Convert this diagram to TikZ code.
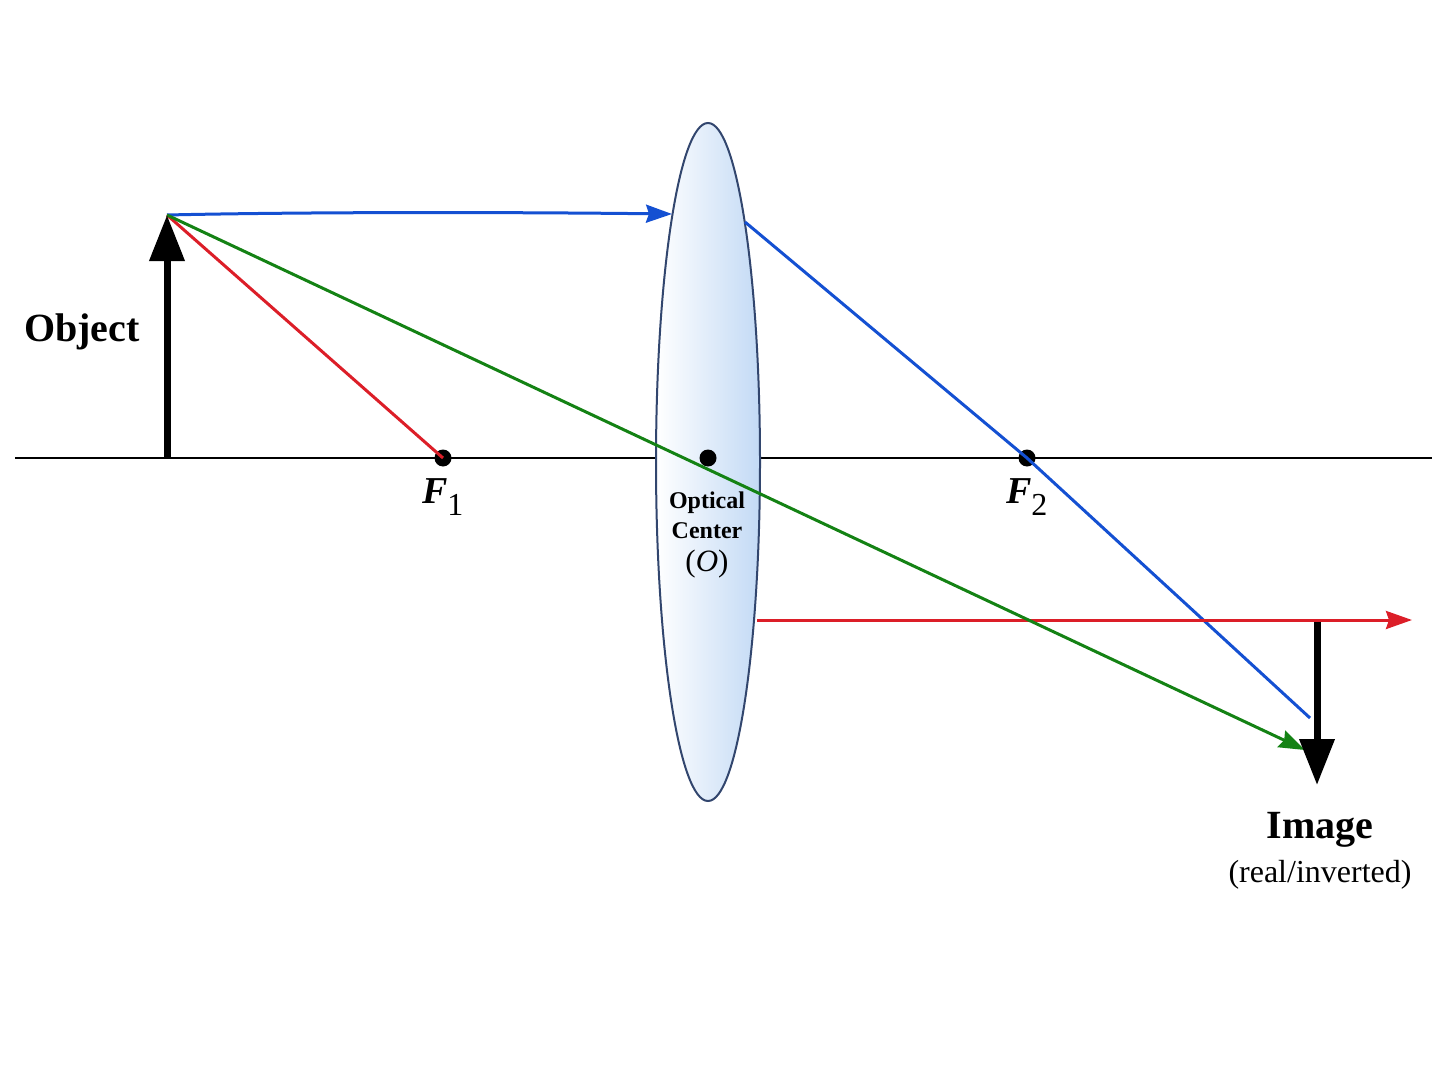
\documentclass[tikz,border=0pt]{standalone}
\usepackage{fontspec}
\setmainfont{Liberation Serif}
\usetikzlibrary{arrows.meta,shapes.geometric}
\begin{document}
\begin{tikzpicture}[x=1pt,y=-1pt,
 ray/.style={line width=3pt,-{Stealth[length=26pt,width=18pt,inset=3pt]}},
 seg/.style={line width=3pt},
 dot/.style={circle,fill=black,inner sep=0pt,minimum size=17pt},
 big/.style={line width=7pt,-{Triangle[length=46pt,width=34pt]}}]
\useasboundingbox (0,0) rectangle (1448,1086);
\definecolor{rblue}{RGB}{20,80,210}
\definecolor{rred}{RGB}{220,30,40}
\definecolor{rgreen}{RGB}{20,130,20}
\definecolor{lensedge}{RGB}{50,70,110}
\definecolor{lensblue}{RGB}{195,218,245}
\draw[line width=2.5pt] (15,458) -- (1432,458);
\node[draw=lensedge,line width=2pt,ellipse,minimum width=104,minimum height=678,inner sep=0pt,left color=white,right color=lensblue] (lens) at (708,462) {};
\node[dot] (f1) at (443,458) {};
\node[dot] (o) at (708,458) {};
\node[dot] (f2) at (1027,458) {};
\coordinate (ob) at (167,458);
\coordinate (ot) at (167,215);
\coordinate (bl) at (672,214);
\coordinate (br) at (745,222);
\coordinate (bi) at (1310,718);
\coordinate (rl) at (757,620);
\coordinate (rr) at (1412,620);
\coordinate (ge) at (1305,750);
\coordinate (it) at (1317,622);
\coordinate (ib) at (1317,785);
\draw[rblue,ray] (ot) .. controls (300,212) and (500,212) .. (bl);
\draw[rblue,seg] (br) -- (f2.center) -- (bi);
\draw[rred,seg] (ot) -- (f1.center);
\draw[rred,ray] (rl) -- (rr);
\draw[rgreen,ray] (ot) -- (ge);
\draw[big] (ob) -- (ot);
\draw[big] (it) -- (ib);
\node[font=\bfseries\fontsize{40}{40}\selectfont] (objl) at (82,332) {Object};
\node[font=\fontsize{38}{40}\selectfont] (f1l) at (443,497) {\textbf{\textit{F}}\textsubscript{\fontsize{32}{32}\selectfont 1}};
\node[font=\fontsize{38}{40}\selectfont] (f2l) at (1027,497) {\textbf{\textit{F}}\textsubscript{\fontsize{32}{32}\selectfont 2}};
\node[font=\bfseries\fontsize{24}{30}\selectfont,align=center] (ocl) at (707,535) {Optical\\Center\\[3pt]{\mdseries\fontsize{31}{30}\selectfont(\textit{O})}};
\node[font=\bfseries\fontsize{40}{40}\selectfont] (iml) at (1320,830) {Image};
\node[font=\fontsize{32}{34}\selectfont] (imsub) at (1320,875) {(real/inverted)};
\end{tikzpicture}
\end{document}
